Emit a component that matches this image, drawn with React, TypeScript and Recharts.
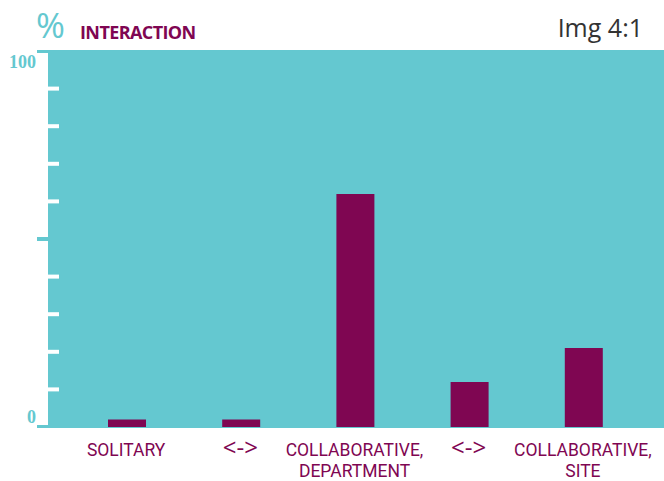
import React from "react";
import { BarChart, Bar, XAxis, YAxis } from "recharts";

const categories = ["SOLITARY", "<->", "COLLABORATIVE,\nDEPARTMENT", "<->", "COLLABORATIVE,\nSITE"];
const interaction = [2, 2, 62, 12, 21];
const yTicks = [0, 10, 20, 30, 40, 50, 60, 70, 80, 90, 100];
const yLabelTicks = [0, 100];
const majorTicks = [0, 50, 100];

const CYAN = "#64c8d0";
const PURPLE = "#7f0652";

const data = categories.map((c, i) => ({ name: c, value: interaction[i] }));

const W = 664;
const H = 481;
const TOP = 51;
const BOTTOM = 427;
const LEFT = 48;

const YTick = (props: any) => {
  const { y, payload } = props;
  const v = payload.value;
  const isMajor = majorTicks.includes(v);
  let y0 = y - 2;
  let y1 = y + 2;
  if (y0 < 50) y0 = 50;
  if (y1 > 428) y1 = 428;
  return (
    <g>
      {isMajor ? (
        <rect x={37} y={y0} width={11} height={y1 - y0} fill={CYAN} />
      ) : (
        <rect x={LEFT} y={y0} width={11} height={y1 - y0} fill="#ffffff" />
      )}
      {yLabelTicks.includes(v) && (
        <text
          x={36}
          y={v === 100 ? y + 17 : y - 4}
          textAnchor="end"
          fontFamily="Liberation Serif"
          fontWeight="bold"
          fontSize={18}
          fill={CYAN}
        >
          {v}
        </text>
      )}
    </g>
  );
};

const XTick = (props: any) => {
  const { x, payload } = props;
  const lines = String(payload.value).split("\n");
  const isArrow = payload.value === "<->";
  return (
    <text
      x={x - 1}
      y={455.5}
      textAnchor="middle"
      fontFamily={isArrow ? "Open Sans" : "Roboto"}
      fontSize={isArrow ? 24 : 17.5}
      fontWeight={400}
      fill={PURPLE}
    >
      {lines.map((l, i) => (
        <tspan key={i} x={x - 1} dy={i === 0 ? 0 : 21.5}>
          {l}
        </tspan>
      ))}
    </text>
  );
};

export default function App() {
  return (
    <div style={{ position: "absolute", left: 0, top: 0, width: W, height: H, background: "#fff" }}>
      <svg width={W} height={H} style={{ position: "absolute", left: 0, top: 0 }}>
        <rect x={LEFT} y={50} width={W - LEFT} height={378} fill={CYAN} />
      </svg>
      <div style={{ position: "absolute", left: 0, top: 0 }}>
        <BarChart
          width={W}
          height={H}
          data={data}
          margin={{ top: TOP, right: 0, bottom: 0, left: 0 }}
        >
          <XAxis
            dataKey="name"
            height={H - BOTTOM}
            axisLine={false}
            tickLine={false}
            interval={0}
            padding={{ left: 22, right: 23 }}
            tick={<XTick />}
          />
          <YAxis
            width={LEFT}
            domain={[0, 100]}
            ticks={yTicks}
            axisLine={false}
            tickLine={false}
            interval={0}
            tick={<YTick />}
          />
          <Bar dataKey="value" fill={PURPLE} barSize={38} isAnimationActive={false} />
        </BarChart>
      </div>
      <svg width={W} height={H} style={{ position: "absolute", left: 0, top: 0, pointerEvents: "none" }}>
        <text x={36} y={38} fontFamily="Open Sans" fontSize={35} fill={CYAN}>%</text>
        <text x={80} y={39} fontFamily="Open Sans" fontWeight="bold" fontSize={18} letterSpacing={-0.6} fill={PURPLE}>INTERACTION</text>
        <text x={643} y={37} textAnchor="end" fontFamily="Open Sans" fontSize={25} fill="#333333">Img 4:1</text>
      </svg>
    </div>
  );
}
